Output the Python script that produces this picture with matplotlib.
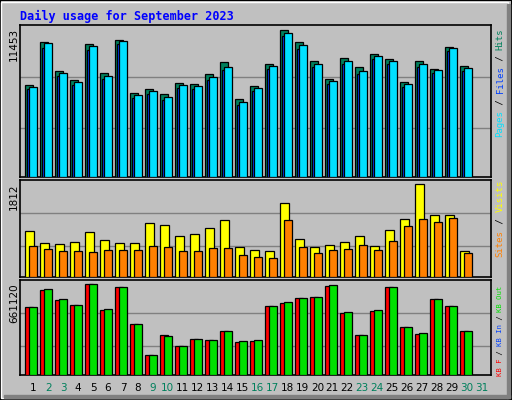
import matplotlib
matplotlib.use("Agg")
import matplotlib.pyplot as plt
from matplotlib.patches import Rectangle
import numpy as np

days = list(range(1, 31))
day_labels = [str(d) for d in range(1, 32)]
weekend = [2, 3, 9, 10, 16, 17, 23, 24, 30, 31]

hits = [7180, 10520, 8267, 7568, 10365, 8112, 10676, 6558, 6869, 6480, 7335, 7257, 8034, 8912, 6092,
        7102, 8811, 11453, 10520, 9044, 7646, 9277, 8578, 9588, 9200, 7413, 9044, 8423, 10132, 8656]
files = [6850, 10050, 7860, 7180, 9900, 7650, 10350, 6170, 6480, 6000, 6950, 6870, 7560, 8330, 5620,
         6700, 8400, 10950, 9980, 8560, 7240, 8800, 8020, 9180, 8800, 7020, 8560, 8100, 9800, 8250]
pages = [7024, 10388, 8112, 7413, 10210, 7879, 10598, 6402, 6713, 6247, 7180, 7102, 7801, 8578, 5859,
         6946, 8656, 11220, 10233, 8811, 7490, 9044, 8267, 9433, 9044, 7257, 8811, 8345, 10054, 8500]
visits = [896, 674, 654, 693, 870, 733, 674, 674, 1047, 1007, 792, 831, 949, 1106, 595,
          536, 517, 1439, 752, 595, 635, 693, 792, 615, 909, 1125, 1812, 1204, 1204, 517]
sites = [615, 556, 517, 517, 497, 536, 536, 536, 615, 595, 517, 517, 576, 576, 438,
         399, 379, 1106, 595, 478, 536, 556, 635, 536, 713, 988, 1125, 1066, 1145, 478]
kb_f = [494027, 617534, 544882, 508557, 661120, 472232, 639325, 370520, 145302, 290604, 210688, 261544,
        254279, 319664, 239748, 247013, 501292, 523087, 559413, 566678, 646590, 450436, 290604, 464966,
        639325, 348725, 297869, 552148, 501292, 319664]
kb_in = [494027, 624800, 552150, 508557, 661120, 479500, 639325, 370520, 145302, 283340, 210688, 261544,
         254279, 319664, 247013, 254279, 501292, 530350, 559413, 566678, 653855, 457700, 290604, 472230,
         639325, 348725, 305130, 552148, 501292, 319664]

W, H = 512, 400
fig = plt.figure(figsize=(W / 100, H / 100), dpi=100)
fig.patch.set_facecolor("#c0c0c0")

def fx(px): return px / W
def fy(py): return 1 - py / H

# bevel border
fig.patches.append(Rectangle((0, 0), 1, 1, transform=fig.transFigure, fill=False, ec="black", lw=1.5))
fig.patches.append(Rectangle((fx(1), fy(398)), fx(507), fy(2) - fy(398), transform=fig.transFigure,
                             fill=False, ec="white", lw=1))
fig.patches.append(Rectangle((fx(4), fy(398)), fx(506), 3 / H, transform=fig.transFigure, color="#808080"))
fig.patches.append(Rectangle((fx(507), fy(398)), 3 / W, fy(4) - fy(398), transform=fig.transFigure, color="#808080"))

x0, x1 = 20, 491
panels = [(25, 177), (180, 277), (280, 375)]
axes = []
for (t, b) in panels:
    ax = fig.add_axes([fx(x0), fy(b), fx(x1) - fx(x0), fy(t) - fy(b)])
    ax.set_facecolor("#c0c0c0")
    ax.set_xlim(0, x1 - x0)
    ax.set_xticks([]); ax.set_yticks([])
    for s in ax.spines.values():
        s.set_color("black"); s.set_linewidth(1.2)
    axes.append(ax)

xs = np.array([15 * (d - 1) for d in days])
kw = dict(align="edge", edgecolor="black", linewidth=0.9, zorder=3)

# top panel
ax = axes[0]
ylim = 11453 * 152 / 147.4
ax.set_ylim(0, ylim)
for f in (49 / 152, 100 / 152):
    ax.axhline(ylim * f, color="#808080", lw=1, zorder=1)
ax.bar(xs + 5, hits, width=8, color="#00805c", **kw)
ax.bar(xs + 7, files, width=8, color="#0040ff", **kw)
ax.bar(xs + 9, pages, width=7.7, color="#00e0ff", **kw)

# middle panel
ax = axes[1]
ylim = 1812 * 97 / 92.7
ax.set_ylim(0, ylim)
for f in (30.7 / 97, 63.7 / 97):
    ax.axhline(ylim * f, color="#808080", lw=1, zorder=1)
ax.bar(xs + 5, visits, width=9, color="#ffff00", **kw)
ax.bar(xs + 9, sites, width=7.7, color="#ff8000", **kw)

# bottom panel
ax = axes[2]
ylim = 661120 * 95 / 91
ax.set_ylim(0, ylim)
for f in (29 / 95, 61.7 / 95):
    ax.axhline(ylim * f, color="#808080", lw=1, zorder=1)
ax.bar(xs + 5, kb_f, width=8, color="#ff0000", **kw)
ax.bar(xs + 9, kb_in, width=7.7, color="#00e000", **kw)

# title
fig.text(fx(20), fy(16), "Daily usage for September 2023", color="#0000ff", fontsize=8.5,
         fontweight="bold", family="DejaVu Sans Mono", va="center", ha="left")

# left labels
for lab, top in (("11453", 28), ("1812", 183), ("661120", 283)):
    fig.text(fx(14), fy(top), lab, rotation=90, fontsize=7.5, ha="center", va="top", color="black")

# right labels (stacked, bottom to top)
def right_label(parts, bottom, pitch, size):
    y = bottom
    for txt, col in parts:
        fig.text(fx(500), fy(y), txt, rotation=90, fontsize=size, family="DejaVu Sans Mono",
                 color=col, ha="center", va="bottom")
        y -= pitch * len(txt)

right_label([("Pages", "#00e0ff"), (" / ", "black"), ("Files", "#0040ff"), (" / ", "black"), ("Hits", "#00805c")],
            137, 5.45, 6.5)
right_label([("Sites", "#ff8000"), (" / ", "black"), ("Visits", "#ffff00")], 257, 5.57, 6.5)
right_label([("KB F", "#ff0000"), (" / ", "black"), ("KB In", "#0040ff"), (" / ", "black"), ("KB Out", "#00e000")],
            376, 4.3, 5.2)

# x labels
for i, lab in enumerate(day_labels):
    d = i + 1
    fig.text(fx(33.3 + 14.95 * i), fy(388), lab, fontsize=7.5, ha="center", va="center",
             color="#00805c" if d in weekend else "black")

fig.savefig("out.png", dpi=100, facecolor=fig.get_facecolor())
